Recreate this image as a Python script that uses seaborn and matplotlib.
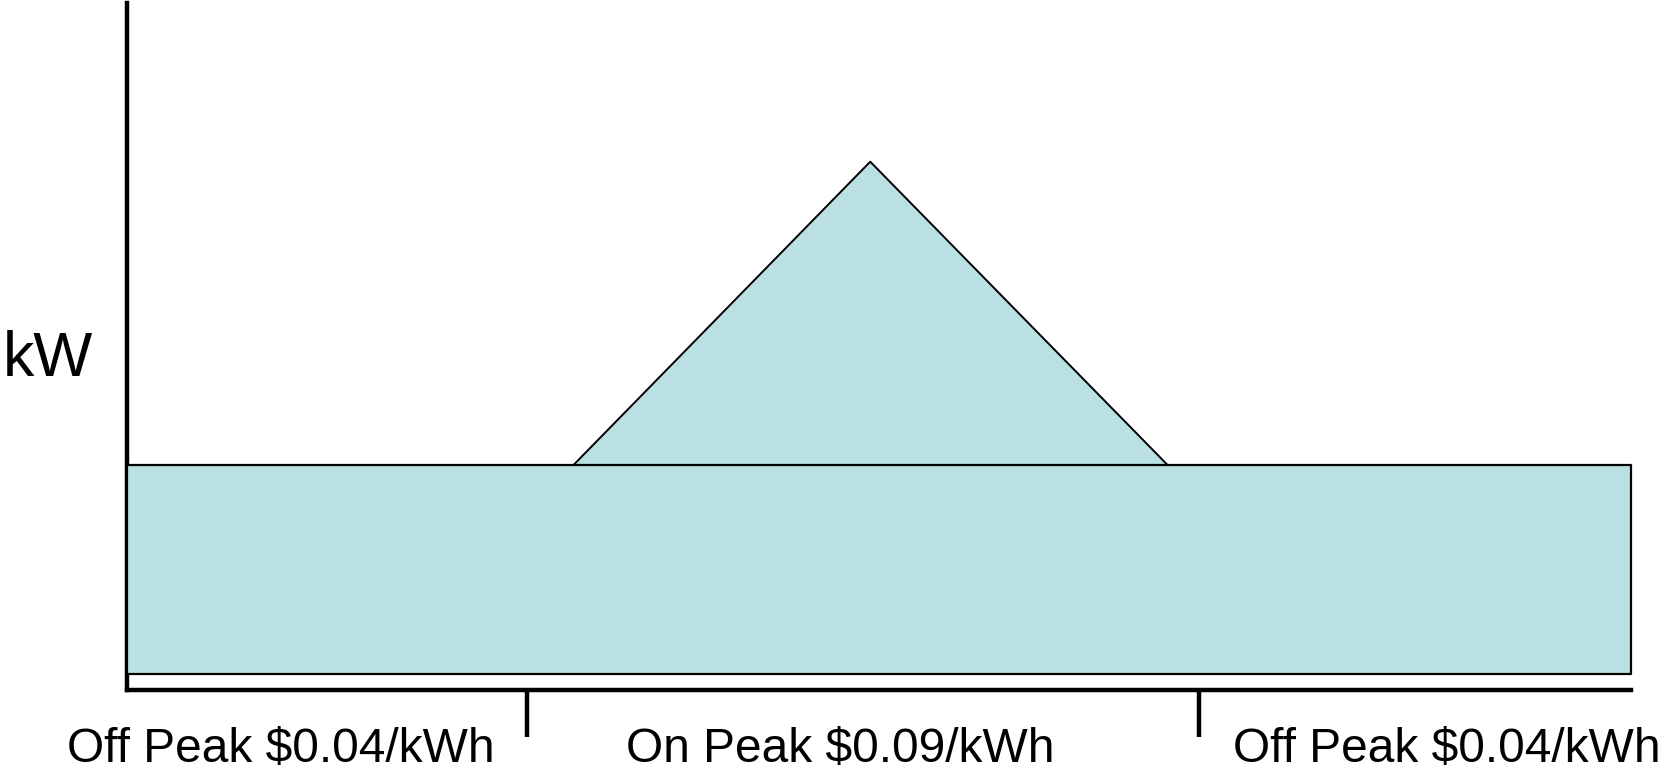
import matplotlib
matplotlib.use("Agg")
import matplotlib.pyplot as plt
import seaborn as sns
import pandas as pd

# ---- data ----
x_range = [0.0, 24.0]                 # time span of the day
base_load = [0.23, 3.28]               # bottom / top of constant base load (kW)
peak_x = [7.13, 11.86, 16.6]           # on-peak load triangle
peak_y = [3.28, 7.69, 3.28]
period_bounds = [6.38, 17.1]           # tariff period boundaries
period_labels = ["Off Peak $0.04/kWh", "On Peak $0.09/kWh", "Off Peak $0.04/kWh"]
label_x = [2.46, 11.38, 21.06]
y_max = 10.0

sns.set_theme(style="white")
plt.rcParams["font.family"] = ["Liberation Sans", "DejaVu Sans"]

fill_color = "#BAE0E3"

fig = plt.figure(figsize=(16.64, 7.69), dpi=100)
W, H = 1664, 769
ax = fig.add_axes([127 / W, (H - 690) / H, (1631 - 127) / W, (690 - 3) / H])

peak_df = pd.DataFrame({"x": peak_x, "y": peak_y})

# triangle fill
ax.fill_between(peak_df["x"], base_load[1], peak_df["y"], facecolor=fill_color,
                edgecolor="none", zorder=2)
# base rectangle
ax.fill_between(x_range, base_load[0], base_load[1], facecolor=fill_color,
                edgecolor="black", linewidth=1.6, zorder=3, clip_on=False)
# triangle outline
sns.lineplot(data=peak_df, x="x", y="y", color="black", linewidth=1.4, ax=ax,
             zorder=4, sort=False)

ax.set_xlim(x_range)
ax.set_ylim(0, y_max)

for s in ["top", "right"]:
    ax.spines[s].set_visible(False)
for s in ["left", "bottom"]:
    ax.spines[s].set_visible(True)
    ax.spines[s].set_color("black")
    ax.spines[s].set_linewidth(3.2)

ax.set_xticks(period_bounds)
ax.set_xticklabels([])
ax.tick_params(axis="x", direction="out", length=34, width=3.2, color="black",
               bottom=True)
ax.set_yticks([])
ax.set_xlabel("")

ax.set_ylabel("kW", rotation=0, fontsize=45, ha="left", va="center", color="black")
ax.yaxis.set_label_coords((3 - 127) / 1504, (690 - 359) / 687)

trans = ax.get_xaxis_transform()
for lx, lab in zip(label_x, period_labels):
    ax.text(lx, (690 - 762) / 687, lab, transform=trans, ha="center",
            va="baseline", fontsize=34.5, color="black", clip_on=False)

fig.savefig("out.png", dpi=100, facecolor="white")
